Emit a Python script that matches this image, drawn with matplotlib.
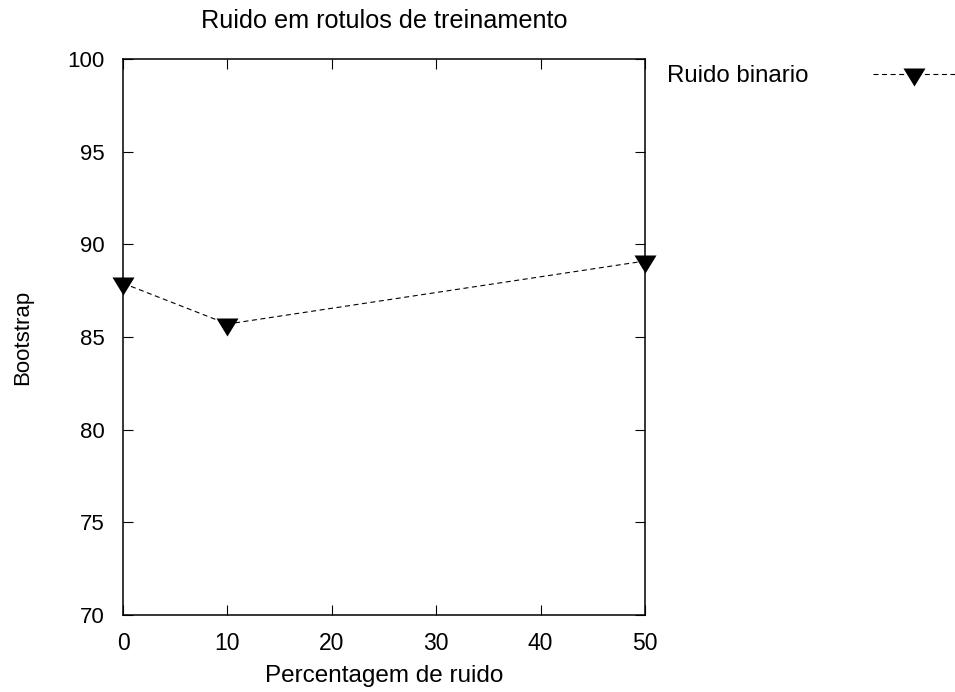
import matplotlib
matplotlib.use("Agg")
import matplotlib.pyplot as plt

# Data
noise_pct = [0, 10, 50]
bootstrap = [87.9, 85.7, 89.1]
series_label = "Ruido binario"
x_ticks = [0, 10, 20, 30, 40, 50]
y_ticks = [70, 75, 80, 85, 90, 95, 100]

plt.rcParams['font.family'] = ['Liberation Sans', 'DejaVu Sans']
plt.rcParams['font.size'] = 16

fig = plt.figure(figsize=(9.55, 6.92), dpi=100)
ax = fig.add_axes([123 / 955, 1 - 615 / 692, (645 - 123) / 955, (615 - 59) / 692])

# gnuplot-like down triangle, centred on its centroid
tri = [(-1.1, 0.6), (1.1, 0.6), (0.0, -1.2), (-1.1, 0.6)]

ax.plot(noise_pct, bootstrap, color='black', linewidth=0.8, linestyle=(0, (4.5, 3.2)),
        marker=tri, markersize=17.3, markerfacecolor='black', markeredgecolor='black',
        markeredgewidth=0, label=series_label, clip_on=False, zorder=3)

ax.set_xlim(0, 50)
ax.set_ylim(70, 100)
ax.set_xticks(x_ticks)
ax.set_yticks(y_ticks)
ax.tick_params(direction='in', length=7, width=0.8, top=True, right=True)
ax.tick_params(axis='y', pad=13)
ax.tick_params(axis='x', pad=12, labelsize=16.5)
for s in ax.spines.values():
    s.set_linewidth(1.1)

ax.set_title("Ruido em rotulos de treinamento", pad=22, fontsize=18.2)
ax.set_xlabel("Percentagem de ruido", labelpad=7.5, fontsize=17.5)
ax.set_ylabel("Bootstrap", labelpad=25)

fig.legend(loc='upper left', bbox_to_anchor=(667 / 955, 1 - 65 / 692), frameon=False,
           markerfirst=False, handlelength=3.4, handletextpad=2.7, borderpad=0,
           borderaxespad=0, fontsize=17.3)

fig.savefig("out.png", dpi=100)
